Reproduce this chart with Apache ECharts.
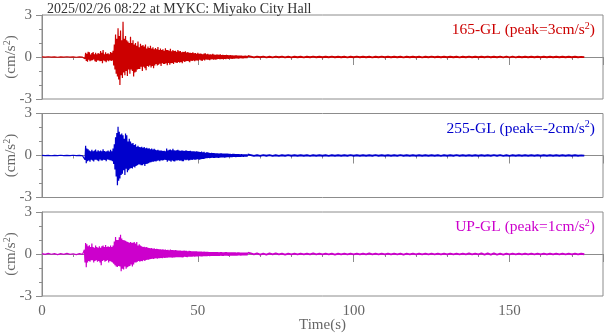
<!DOCTYPE html>
<html><head><meta charset="utf-8">
<script src="https://cdn.jsdelivr.net/npm/echarts@6/dist/echarts.min.js"></script>
<style>html,body{margin:0;padding:0;background:#fff}#c{width:605px;height:334px}</style>
</head><body><div id="c"></div>
<script>
// ---- data (acceleration, cm/s^2) ----
const titleText = '2025/02/26 08:22 at MYKC: Miyako City Hall';
const channelNames = ['165-GL (peak=3cm/s{sup|2})', '255-GL (peak=-2cm/s{sup|2})', 'UP-GL (peak=1cm/s{sup|2})'];
const xTicks = [0, 50, 100, 150];
const yTicks = [-3, 0, 3];
const PRE_START = 0, PRE_STEP = 1;
const MAIN_START = 13.2, MAIN_STEP = 0.2;
const TAIL_START = 67, TAIL_STEP = 1;

const redPre = [0.01,-0.01,0.02,-0.01,0.01,-0.02,0.01,-0.01,0.02,-0.01,0.01,-0.02,0.01,-0.01];
const redMain = [
0.02,-0.03,0.05,-0.12,0.3, -0.28,0.22,-0.33,0.38,-0.2, 0.33,-0.3,0.18,-0.25,0.28, -0.22,0.35,-0.18,0.2,-0.3,
0.3,-0.36,0.2,-0.24,0.28, -0.25,0.22,-0.3,0.42,-0.28, 0.3,-0.45,0.5,-0.25,0.2, -0.3,0.33,-0.38,0.22,-0.25,
0.26,-0.3,0.2,-0.22,0.36, -0.28,0.3,-0.25,0.45,-0.6, 0.9,-0.9,1.6,-1.2,1.3, -1.4,2.05,-1.6,1.5,-2.0,
1.9,-1.3,1.2,-1.5,2.52, -1.1,1.3,-1.3,1.5,-1.0, 1.2,-1.35,1.1,-0.9,1.0, -1.2,1.45,-0.9,1.0,-1.0,
1.2,-1.4,0.9,-1.1,1.0, -1.05,0.8,-0.9,1.1,-0.85, 0.7,-0.85,0.95,-0.7,0.8, -1.0,0.85,-0.7,0.75,-0.8,
0.9,-0.95,0.6,-0.65,0.75, -0.7,0.65,-0.6,0.8,-0.75, 0.6,-0.65,0.7,-0.8,0.55, -0.6,0.65,-0.5,0.55,-0.6,
0.72,-0.55,0.5,-0.48,0.6, -0.65,0.5,-0.45,0.55,-0.5, 0.45,-0.5,0.62,-0.45,0.5, -0.58,0.5,-0.42,0.45,-0.55,
0.58,-0.45,0.4,-0.42,0.5, -0.5,0.42,-0.38,0.45,-0.4, 0.38,-0.42,0.5,-0.35,0.4, -0.4,0.42,-0.36,0.33,-0.45,
0.38,-0.3,0.35,-0.35,0.4, -0.3,0.32,-0.28,0.35,-0.3, 0.3,-0.38,0.3,-0.26,0.28, -0.28,0.33,-0.25,0.26,-0.3,
0.28,-0.25,0.22,-0.25,0.3, -0.27,0.22,-0.2,0.25,-0.24, 0.22,-0.28,0.2,-0.2,0.24, -0.24,0.26,-0.18,0.2,-0.2,
0.22,-0.2,0.18,-0.22,0.2, -0.18,0.17,-0.16,0.22,-0.2, 0.18,-0.17,0.16,-0.2,0.17, -0.16,0.17,-0.14,0.15,-0.16,
0.19,-0.15,0.14,-0.14,0.16, -0.17,0.14,-0.13,0.14,-0.15, 0.15,-0.12,0.13,-0.14,0.12,
-0.12,0.13,-0.11,0.12,-0.13, 0.11,-0.12,0.1,-0.11,0.12, -0.1,0.11,-0.1,0.09,-0.11, 0.1,-0.09,0.1,-0.08,0.09,
-0.09,0.08,-0.09,0.08,-0.08, 0.09,-0.08,0.07,-0.08,0.07];
const redTail = [0.03,-0.03,0.03,-0.02,0.03,-0.03,0.02,-0.03,0.03,-0.02,0.03,-0.03,0.02,-0.03,
0.02,-0.02,0.02,-0.03,0.02,-0.02,0.03,-0.02,0.02,-0.02, 0.02,-0.02,0.03,-0.02,0.02,-0.02,0.02,-0.03,0.02,-0.02,
0.03,-0.02,0.02,-0.02,0.02,-0.03,0.02,-0.02,0.03,-0.02, 0.02,-0.02,0.02,-0.02,0.02,-0.03,0.02,-0.02,0.02,-0.02,
0.02,-0.03,0.02,-0.02,0.03,-0.02,0.02,-0.02,0.02,-0.02, 0.02,-0.02,0.02,-0.03,0.02,-0.02,0.03,-0.02,0.02,-0.02,
0.02,-0.02,0.03,-0.02,0.02,-0.02,0.03,-0.03,0.03,-0.03, 0.03,-0.03,0.02,-0.02,0.02,-0.02,0.02,-0.02,0.02,-0.02,
0.02,-0.02,0.02,-0.02,0.02,-0.02,0.02,-0.02,0.02,-0.02, 0.02,-0.02,0.01,-0.01];

const bluePre = [0.01,-0.01,0.01,-0.02,0.01,-0.01,0.02,-0.01,0.01,-0.01,0.02,-0.01,0.01,-0.02];
const blueMain = [
0.02,-0.05,0.1,-0.3,0.69, -0.55,0.5,-0.4,0.45,-0.35, 0.35,-0.45,0.3,-0.3,0.4, -0.35,0.3,-0.42,0.35,-0.3,
0.42,-0.3,0.28,-0.36,0.38, -0.4,0.3,-0.28,0.35,-0.35, 0.3,-0.35,0.45,-0.3,0.32, -0.32,0.28,-0.4,0.3,-0.28,
0.35,-0.3,0.28,-0.33,0.4, -0.35,0.3,-0.4,0.5,-0.6, 0.8,-1.0,1.3,-1.5,1.6, -2.12,2.05,-1.8,1.7,-1.64,
1.5,-1.4,1.57,-1.3,1.45, -1.05,1.2,-1.4,1.57,-0.95, 1.45,-1.2,1.0,-1.05,1.2, -0.95,1.0,-0.9,0.85,-0.93,
0.9,-0.8,0.74,-0.85,0.8, -0.75,0.62,-0.7,0.7,-0.65, 0.6,-0.65,0.58,-0.7,0.62, -0.7,0.55,-0.62,0.6,-0.75,
0.52,-0.6,0.55,-0.58,0.5, -0.55,0.52,-0.5,0.45,-0.48, 0.5,-0.45,0.42,-0.44,0.48, -0.4,0.4,-0.42,0.38,-0.38,
0.4,-0.36,0.35,-0.4,0.36, -0.33,0.35,-0.35,0.32,-0.33, 0.34,-0.3,0.3,-0.32,0.5, -0.45,0.36,-0.35,0.4,-0.38,
0.42,-0.44,0.38,-0.35,0.48, -0.4,0.38,-0.42,0.36,-0.36, 0.38,-0.36,0.4,-0.33,0.35, -0.38,0.33,-0.35,0.36,-0.4,
0.35,-0.4,0.32,-0.3,0.36, -0.33,0.35,-0.3,0.32,-0.35, 0.32,-0.33,0.34,-0.3,0.3, -0.32,0.3,-0.28,0.3,-0.3,
0.28,-0.3,0.3,-0.26,0.28, -0.28,0.26,-0.3,0.25,-0.26, 0.28,-0.24,0.22,-0.25,0.26, -0.22,0.2,-0.2,0.22,-0.2,
0.22,-0.18,0.2,-0.2,0.18, -0.17,0.2,-0.16,0.17,-0.18, 0.17,-0.18,0.15,-0.16,0.16, -0.15,0.16,-0.17,0.14,-0.15,
0.15,-0.14,0.16,-0.13,0.14, -0.14,0.13,-0.15,0.13,-0.13, 0.13,-0.12,0.14,-0.12,0.12,
-0.12,0.11,-0.12,0.1,-0.11, 0.12,-0.1,0.11,-0.1,0.1, -0.11,0.09,-0.1,0.1,-0.09, 0.1,-0.09,0.08,-0.09,0.09,
-0.08,0.08,-0.09,0.07,-0.08, 0.08,-0.07,0.08,-0.07,0.07];
const blueTail = [0.03,-0.03,0.02,-0.03,0.03,-0.02,0.03,-0.03,0.02,-0.03,0.02,-0.02,0.03,-0.02,
0.02,-0.02,0.02,-0.02,0.02,-0.03,0.02,-0.02,0.02,-0.02, 0.02,-0.03,0.02,-0.02,0.02,-0.02,0.02,-0.02,0.03,-0.02,
0.02,-0.02,0.02,-0.02,0.02,-0.02,0.03,-0.02,0.02,-0.02, 0.02,-0.02,0.02,-0.02,0.03,-0.02,0.02,-0.02,0.02,-0.02,
0.02,-0.02,0.02,-0.02,0.02,-0.02,0.02,-0.03,0.02,-0.02, 0.02,-0.02,0.03,-0.02,0.02,-0.02,0.02,-0.02,0.02,-0.02,
0.02,-0.02,0.02,-0.02,0.03,-0.02,0.03,-0.03,0.02,-0.03, 0.02,-0.02,0.02,-0.02,0.02,-0.02,0.02,-0.02,0.02,-0.02,
0.02,-0.02,0.02,-0.02,0.02,-0.02,0.02,-0.02,0.02,-0.02, 0.02,-0.02,0.01,-0.01];

const magPre = [0.03,-0.03,0.04,-0.02,0.03,-0.04,0.03,-0.03,0.04,-0.03,0.02,-0.04,0.03,-0.03];
const magMain = [
0.05,-0.1,0.3,-0.6,0.79, -0.95,0.7,-0.6,0.55,-0.5, 0.62,-0.55,0.5,-0.45,0.74, -0.45,0.5,-0.6,0.45,-0.5,
0.6,-0.45,0.5,-0.55,0.45, -0.5,0.55,-0.6,0.45,-0.8, 0.55,-0.5,0.6,-0.45,0.5, -0.55,0.65,-0.5,0.5,-0.45,
0.55,-0.6,0.5,-0.5,0.6, -0.55,0.5,-0.6,0.6,-0.7, 0.9,-0.8,1.21,-0.9,1.0, -0.93,1.0,-0.85,1.2,-0.9,
1.38,-1.24,1.1,-1.05,1.0, -1.1,0.98,-0.9,0.95,-1.05, 0.9,-0.95,0.86,-0.9,0.8, -0.85,0.86,-0.75,0.8,-0.9,
0.8,-0.75,0.86,-0.6,0.75, -0.6,0.86,-0.55,0.6,-0.5, 0.7,-0.55,0.6,-0.5,0.55, -0.52,0.5,-0.45,0.52,-0.5,
0.48,-0.42,0.5,-0.4,0.45, -0.4,0.42,-0.38,0.4,-0.36, 0.42,-0.33,0.38,-0.35,0.4, -0.32,0.36,-0.3,0.38,-0.33,
0.35,-0.3,0.33,-0.3,0.34, -0.28,0.32,-0.3,0.33,-0.27, 0.3,-0.28,0.31,-0.26,0.28, -0.26,0.3,-0.24,0.26,-0.25,
0.32,-0.25,0.28,-0.26,0.28, -0.24,0.27,-0.24,0.28,-0.23, 0.26,-0.23,0.25,-0.22,0.25, -0.22,0.24,-0.23,0.22,-0.24,
0.23,-0.22,0.24,-0.2,0.22, -0.21,0.22,-0.22,0.2,-0.2, 0.22,-0.2,0.21,-0.19,0.2, -0.19,0.2,-0.18,0.2,-0.19,
0.19,-0.18,0.2,-0.18,0.17, -0.18,0.17,-0.16,0.18,-0.17, 0.17,-0.17,0.16,-0.15,0.17, -0.16,0.15,-0.16,0.15,-0.15,
0.15,-0.14,0.14,-0.15,0.14, -0.14,0.13,-0.14,0.13,-0.13, 0.14,-0.13,0.13,-0.14,0.13, -0.13,0.14,-0.13,0.12,-0.13,
0.13,-0.12,0.13,-0.13,0.12, -0.13,0.12,-0.12,0.13,-0.12, 0.13,-0.12,0.12,-0.13,0.12,
-0.12,0.12,-0.11,0.12,-0.12, 0.11,-0.12,0.11,-0.11,0.12, -0.11,0.1,-0.11,0.11,-0.1, 0.11,-0.1,0.1,-0.11,0.1,
-0.1,0.1,-0.09,0.1,-0.1, 0.09,-0.1,0.09,-0.09,0.1];
const magTail = [0.04,-0.03,0.04,-0.04,0.03,-0.04,0.04,-0.03,0.04,-0.03,0.03,-0.04,0.03,-0.03,
0.03,-0.03,0.03,-0.03,0.03,-0.03,0.04,-0.03,0.03,-0.03, 0.03,-0.03,0.03,-0.04,0.03,-0.03,0.03,-0.03,0.03,-0.03,
0.03,-0.03,0.03,-0.03,0.04,-0.03,0.03,-0.03,0.03,-0.03, 0.03,-0.03,0.03,-0.03,0.03,-0.04,0.03,-0.03,0.03,-0.03,
0.03,-0.03,0.03,-0.03,0.03,-0.03,0.03,-0.03,0.03,-0.03, 0.03,-0.03,0.03,-0.03,0.03,-0.03,0.04,-0.03,0.03,-0.03,
0.04,-0.04,0.04,-0.04,0.04,-0.04,0.03,-0.04,0.03,-0.03, 0.03,-0.03,0.03,-0.03,0.03,-0.03,0.03,-0.03,0.03,-0.03,
0.03,-0.03,0.03,-0.03,0.03,-0.03,0.03,-0.03,0.03,-0.03, 0.03,-0.03,0.02,-0.02];

// ---- build ----
function buildHead(pre, main) {
  const d = [];
  pre.forEach((v, i) => d.push([+(PRE_START + i * PRE_STEP).toFixed(2), v]));
  main.forEach((v, i) => d.push([+(MAIN_START + i * MAIN_STEP).toFixed(2), v]));
  return d;
}
function buildTail(main, tail) {
  const last = main.length - 1;
  const d = [[+(MAIN_START + last * MAIN_STEP).toFixed(2), main[last]]];
  tail.forEach((v, i) => d.push([+(TAIL_START + i * TAIL_STEP).toFixed(2), v]));
  return d;
}
const heads = [buildHead(redPre, redMain), buildHead(bluePre, blueMain), buildHead(magPre, magMain)];
const tails = [buildTail(redMain, redTail), buildTail(blueMain, blueTail), buildTail(magMain, magTail)];
const colors = ['#cc0000', '#0000cc', '#cc00cc'];
const FONT = 'Liberation Serif';
const AX = '#8c8c8c';
const TXT = '#666666';
const tops = [15, 113.5, 212];
const H = 84;

const grids = [], xAxes = [], yAxes = [], series = [], titles = [];
titles.push({ text: titleText, left: 42, top: -3, textStyle: { fontFamily: FONT, fontSize: 14, fontWeight: 'normal', color: '#333' } });
for (let k = 0; k < 3; k++) {
  grids.push({ left: 42, right: 2, top: tops[k], height: H, show: true, borderColor: AX, borderWidth: 1,
    backgroundColor: 'transparent', containLabel: false, outerBoundsMode: 'none' });
  xAxes.push({
    gridIndex: k, type: 'value', min: 0, max: 180, interval: 50,
    axisLine: { show: true, lineStyle: { color: AX, width: 1 } },
    axisTick: { show: true, inside: false, length: 8, lineStyle: { color: AX } },
    minorTick: { show: true, splitNumber: 5, length: 3, lineStyle: { color: AX } },
    splitLine: { show: false },
    axisLabel: { show: k === 2, color: TXT, fontFamily: FONT, fontSize: 15, margin: 8, formatter: v => xTicks.includes(v) ? String(v) : '' },
    name: k === 2 ? 'Time(s)' : '', nameLocation: 'middle', nameGap: 22, nameMoveOverlap: false,
    nameTextStyle: { color: TXT, fontFamily: FONT, fontSize: 15 }
  });
  yAxes.push({
    gridIndex: k, type: 'value', min: -3, max: 3, interval: 3,
    axisLine: { show: true, lineStyle: { color: AX, width: 1 } },
    axisTick: { show: true, inside: false, length: 6, lineStyle: { color: AX } },
    minorTick: { show: true, splitNumber: 3, length: 3, lineStyle: { color: AX } },
    splitLine: { show: false },
    axisLabel: { color: TXT, fontFamily: FONT, fontSize: 15, margin: 10, formatter: v => yTicks.includes(v) ? String(v) : '' },
    name: '(cm/s{sup|2})', nameLocation: 'middle', nameGap: 22, nameRotate: 90, nameMoveOverlap: false,
    nameTextStyle: { color: TXT, fontFamily: FONT, fontSize: 15,
      rich: { sup: { fontFamily: FONT, fontSize: 10, color: TXT, verticalAlign: 'top', padding: [0, 0, 8, 0] } } }
  });
  series.push({
    type: 'line', xAxisIndex: k, yAxisIndex: k, data: heads[k], showSymbol: false, symbol: 'none',
    sampling: null, animation: false, lineStyle: { color: colors[k], width: 1.2 }, silent: true
  });
  series.push({
    type: 'line', xAxisIndex: k, yAxisIndex: k, data: tails[k], showSymbol: false, symbol: 'none',
    sampling: null, animation: false, lineStyle: { color: colors[k], width: 1.9 }, silent: true
  });
  titles.push({
    text: channelNames[k], right: 5, top: tops[k] + 1,
    textStyle: { fontFamily: FONT, fontSize: 15.5, fontWeight: 'normal', color: colors[k],
      rich: { sup: { fontFamily: FONT, fontSize: 10, color: colors[k], verticalAlign: 'top', padding: [0, 0, 8, 0] } } }
  });
}
const chart = echarts.init(document.getElementById('c'), null, { renderer: 'canvas' });
chart.setOption({ animation: false, backgroundColor: '#fff', title: titles, grid: grids, xAxis: xAxes, yAxis: yAxes, series: series });
</script></body></html>
